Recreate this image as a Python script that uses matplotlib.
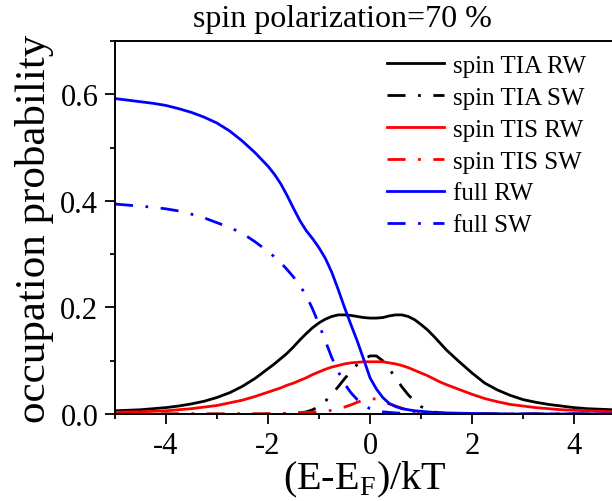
import numpy as np
import matplotlib
matplotlib.use("Agg")
import matplotlib.pyplot as plt
from matplotlib.ticker import MultipleLocator, FormatStrFormatter

plt.rcParams['font.family'] = ['Liberation Serif', 'DejaVu Serif']
plt.rcParams['mathtext.fontset'] = 'custom'
plt.rcParams['mathtext.rm'] = 'Liberation Serif'
plt.rcParams['axes.unicode_minus'] = False

# energy grid (E-EF)/kT: every 0.25 in the tails, every 0.125 in the middle
energy = [-5.00, -4.75, -4.50, -4.25, -4.00, -3.75, -3.50, -3.25, -3.00, -2.75, -2.50, -2.25,
          -2.000, -1.875, -1.750, -1.625, -1.500, -1.375, -1.250, -1.125, -1.000, -0.875,
          -0.750, -0.625, -0.500, -0.375, -0.250, -0.125, 0.000, 0.125, 0.250, 0.375,
          0.500, 0.625, 0.750, 0.875, 1.000, 1.125, 1.250, 1.375, 1.500,
          1.75, 2.00, 2.25, 2.50, 2.75, 3.00, 3.25, 3.50, 3.75, 4.00, 4.25, 4.50, 4.75, 5.00]

tia_rw = [0.006, 0.007, 0.008, 0.010, 0.012, 0.015, 0.019, 0.024, 0.031, 0.040, 0.052, 0.067,
          0.085, 0.094, 0.104, 0.114, 0.126, 0.139, 0.151, 0.162, 0.171, 0.178,
          0.183, 0.186, 0.186, 0.185, 0.183, 0.181, 0.180, 0.180, 0.181, 0.184,
          0.186, 0.186, 0.183, 0.177, 0.168, 0.158, 0.146, 0.133, 0.120,
          0.098, 0.077, 0.058, 0.045, 0.035, 0.027, 0.022, 0.018, 0.015, 0.012, 0.010, 0.009, 0.008, 0.007]

tia_sw = [0.0, 0.0, 0.0, 0.0, 0.0, 0.0, 0.0, 0.0, 0.0, 0.0, 0.0, 0.0,
          0.0, 0.0, 0.0, 0.0, 0.001, 0.002, 0.004, 0.008, 0.014, 0.024,
          0.037, 0.051, 0.066, 0.080, 0.093, 0.103, 0.109, 0.109, 0.100, 0.085,
          0.068, 0.051, 0.036, 0.024, 0.014, 0.008, 0.004, 0.002, 0.001,
          0.0, 0.0, 0.0, 0.0, 0.0, 0.0, 0.0, 0.0, 0.0, 0.0, 0.0, 0.0, 0.0, 0.0]

tis_rw = [0.003, 0.004, 0.004, 0.005, 0.006, 0.008, 0.010, 0.013, 0.016, 0.021, 0.026, 0.033,
          0.041, 0.045, 0.049, 0.054, 0.058, 0.063, 0.068, 0.074, 0.079, 0.084,
          0.088, 0.091, 0.094, 0.096, 0.097, 0.098, 0.098, 0.098, 0.098, 0.096,
          0.094, 0.091, 0.087, 0.082, 0.077, 0.072, 0.066, 0.060, 0.055,
          0.046, 0.037, 0.029, 0.023, 0.018, 0.015, 0.012, 0.010, 0.008, 0.007, 0.006, 0.005, 0.004, 0.004]

tis_sw = [0.0, 0.0, 0.0, 0.0, 0.0, 0.0, 0.0, 0.0, 0.0, 0.0, 0.0, 0.0,
          0.0005, 0.0007, 0.001, 0.0015, 0.002, 0.0025, 0.003, 0.0035, 0.004, 0.005,
          0.007, 0.010, 0.013, 0.017, 0.022, 0.026, 0.029, 0.028, 0.024, 0.019,
          0.015, 0.011, 0.008, 0.006, 0.004, 0.003, 0.002, 0.0015, 0.001,
          0.0005, 0.0, 0.0, 0.0, 0.0, 0.0, 0.0, 0.0, 0.0, 0.0, 0.0, 0.0, 0.0, 0.0]

full_rw = [0.592, 0.589, 0.586, 0.583, 0.579, 0.573, 0.566, 0.557, 0.546, 0.531, 0.512, 0.490,
           0.465, 0.450, 0.432, 0.410, 0.386, 0.363, 0.344, 0.329, 0.312, 0.292,
           0.266, 0.234, 0.200, 0.168, 0.137, 0.103, 0.068, 0.047, 0.031, 0.020,
           0.014, 0.010, 0.008, 0.006, 0.005, 0.004, 0.003, 0.0025, 0.002,
           0.0015, 0.001, 0.0005, 0.0005, 0.0, 0.0, 0.0, 0.0, 0.0, 0.0, 0.0, 0.0, 0.0, 0.0]

full_sw = [0.394, 0.392, 0.390, 0.388, 0.385, 0.381, 0.375, 0.368, 0.359, 0.350, 0.339, 0.323,
           0.305, 0.295, 0.284, 0.271, 0.257, 0.241, 0.222, 0.197, 0.168, 0.137,
           0.106, 0.080, 0.057, 0.040, 0.027, 0.017, 0.010, 0.006, 0.004, 0.003,
           0.002, 0.0015, 0.001, 0.0007, 0.0005, 0.0003, 0.0002, 0.0001, 0.0,
           0.0, 0.0, 0.0, 0.0, 0.0, 0.0, 0.0, 0.0, 0.0, 0.0, 0.0, 0.0, 0.0, 0.0]

series = [
    ("spin TIA RW", tia_rw, "black", "-"),
    ("spin TIA SW", tia_sw, "black", "-."),
    ("spin TIS RW", tis_rw, "#ff0000", "-"),
    ("spin TIS SW", tis_sw, "#ff0000", "-."),
    ("full RW", full_rw, "#0000ff", "-"),
    ("full SW", full_sw, "#0000ff", "-."),
]

fig = plt.figure(figsize=(6.12, 5.02), dpi=100)
ax = fig.add_axes([115 / 612, 87 / 502, 510 / 612, 373 / 502])

for label, vals, color, style in series:
    line, = ax.plot(energy, vals, color=color, lw=2, label=label)
    if style == "-.":
        line.set_dashes((6.5, 4.5, 1, 4.5))

ax.set_xlim(-5, 5)
ax.set_ylim(0, 0.7)
ax.xaxis.set_major_locator(MultipleLocator(2))
ax.xaxis.set_minor_locator(MultipleLocator(1))
ax.yaxis.set_major_locator(MultipleLocator(0.2))
ax.yaxis.set_minor_locator(MultipleLocator(0.1))
ax.yaxis.set_major_formatter(FormatStrFormatter('%.1f'))
ax.tick_params(which='major', direction='out', length=7, width=1.3, labelsize=22, pad=5)
ax.tick_params(which='minor', direction='out', length=3.5, width=1.3)
ax.tick_params(top=False, right=False)
for s in ax.spines.values():
    s.set_linewidth(1.4)

fig.text(35 / 612, 0.545, "occupation probability", rotation=90,
         ha='center', va='center', fontsize=31)
fig.text(365 / 612, 1 - 489 / 502, r"(E-E$_\mathregular{F}$)/kT",
         ha='center', va='baseline', fontsize=29)
fig.text(342 / 612, 1 - 27 / 502, "spin polarization=70 %",
         ha='center', va='baseline', fontsize=23)

ax.legend(loc='upper left', bbox_to_anchor=(387 / 612, 1 - 55 / 502),
          bbox_transform=fig.transFigure, frameon=False, fontsize=18,
          handlelength=2.28, handletextpad=0.36, labelspacing=0.38,
          borderaxespad=0, borderpad=0)

fig.savefig("out.png", dpi=100)
